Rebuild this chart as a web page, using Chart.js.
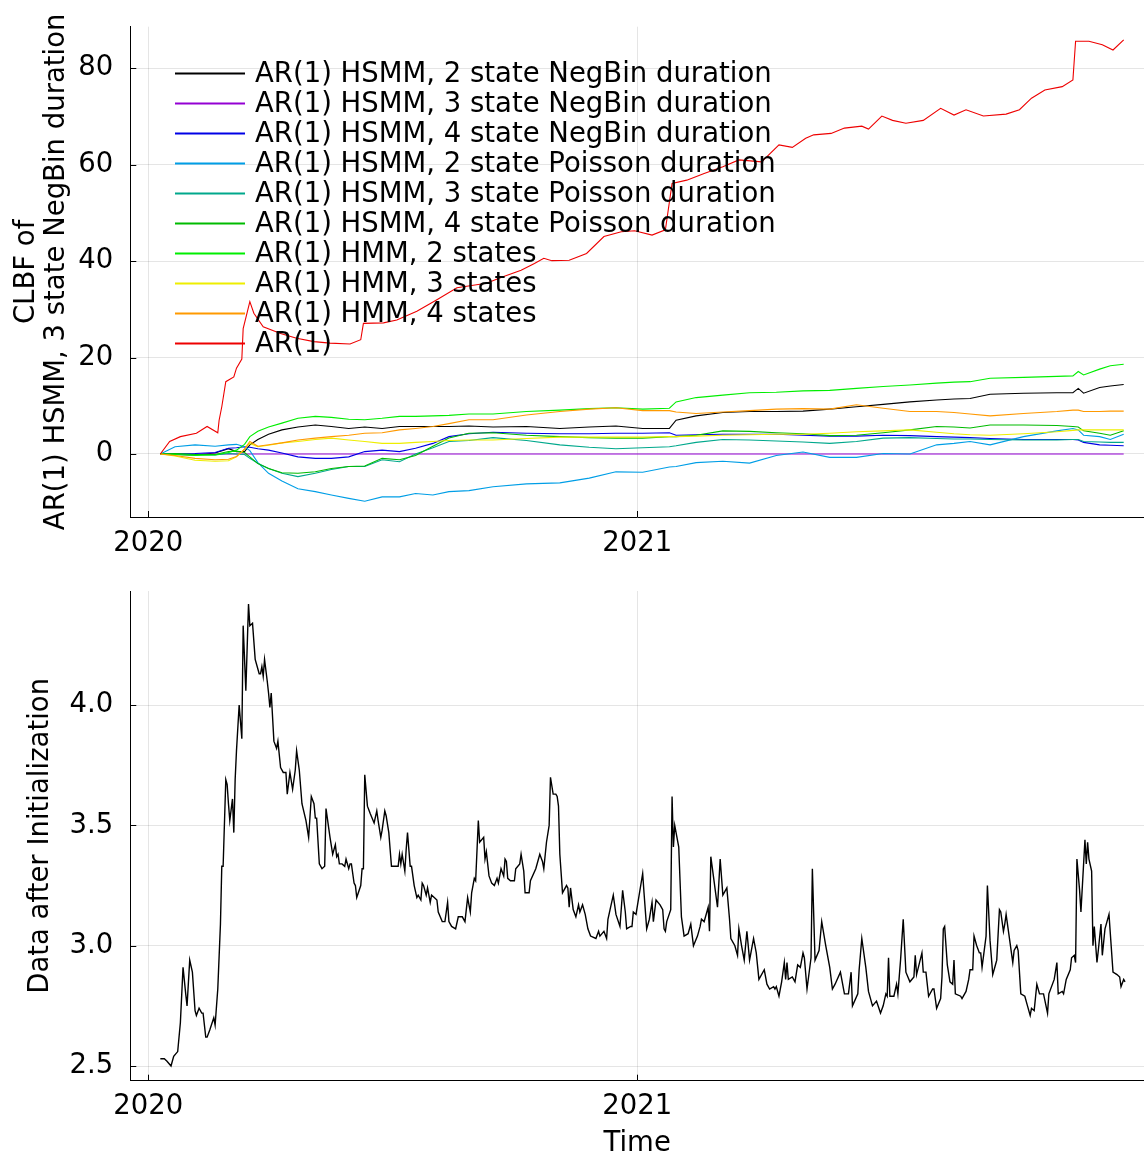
<!DOCTYPE html>
<html>
<head>
<meta charset="utf-8">
<title>CLBF comparison</title>
<script src="https://cdn.jsdelivr.net/npm/chart.js@4.4.1/dist/chart.umd.min.js"></script>
<style>
	html, body { margin: 0; padding: 0; background: #fff; }
	#wrap { position: relative; width: 1144px; height: 1156px; }
	canvas { position: absolute; left: 0; }
	#clbfChart { top: 0; }
	#dataChart { top: 578px; }
</style>
</head>
<body>
<div id="wrap">
	<canvas id="clbfChart" width="1144" height="578"></canvas>
	<canvas id="dataChart" width="1144" height="578"></canvas>
</div>
<script>
// x values are days since 2020-01-01
const yearTickDays = [0, 366];
const yearTickLabels = ['2020', '2021'];
const clbfTicks = [0, 20, 40, 60, 80];
const dataTicks = [2.5, 3.0, 3.5, 4.0];

const modelNames = [
	'AR(1) HSMM, 2 state NegBin duration',
	'AR(1) HSMM, 3 state NegBin duration',
	'AR(1) HSMM, 4 state NegBin duration',
	'AR(1) HSMM, 2 state Poisson duration',
	'AR(1) HSMM, 3 state Poisson duration',
	'AR(1) HSMM, 4 state Poisson duration',
	'AR(1) HMM, 2 states',
	'AR(1) HMM, 3 states',
	'AR(1) HMM, 4 states',
	'AR(1)',
];
const modelColors = [
	'#000000', '#9400d3', '#0000e6', '#009ee6', '#00a88c',
	'#00bb00', '#00ee00', '#eeee00', '#ff9900', '#ee0000',
];

// CLBF against the 3 state NegBin HSMM
const clbfDays = [
	9, 20, 35, 50, 60, 66, 72, 76, 82, 90,
	100, 112, 125, 137, 150, 162, 175, 188, 200, 213,
	225, 240, 258, 283, 308, 330, 350, 370, 390, 395,
	410, 430, 450, 470, 490, 510, 530, 550, 570, 590,
	603, 615, 630, 655, 680, 692, 696, 700, 712, 720,
	730,
];
const hsmm2NegBin = [
	0, -0.1, -0.2, 0.2, 1.1, 0.5, 0.5, 1.9, 3.0, 4.1,
	5.0, 5.6, 6.0, 5.7, 5.3, 5.6, 5.3, 5.7, 5.7, 5.7,
	5.7, 5.8, 5.6, 5.7, 5.3, 5.6, 5.8, 5.3, 5.3, 7.0,
	7.9, 8.6, 8.8, 8.8, 8.9, 9.3, 9.8, 10.3, 10.8, 11.2,
	11.4, 11.5, 12.4, 12.6, 12.7, 12.7, 13.6, 12.6, 13.8, 14.1,
	14.4,
];
const refDays = [9, 730];
const hsmm3NegBin = [0, 0];
const hsmm4NegBin = [
	0, 0, 0.1, 0.3, 1.2, 1.3, 1.5, 1.4, 1.1, 0.8,
	0.2, -0.6, -0.9, -0.9, -0.6, 0.5, 0.8, 0.5, 1.2, 2.2,
	3.6, 4.2, 4.5, 4.3, 4.2, 4.2, 4.3, 4.3, 4.4, 3.9,
	4.0, 4.1, 4.1, 4.1, 3.9, 3.7, 3.7, 3.9, 3.8, 3.6,
	3.5, 3.4, 3.2, 3.0, 3.0, 3.0, 2.9, 2.4, 1.9, 1.8,
	1.7,
];
const hsmm2Poisson = [
	0, 1.5, 1.9, 1.6, 1.9, 2.0, 1.5, 0.7, -1.8, -4.0,
	-5.6, -7.2, -7.8, -8.5, -9.2, -9.8, -8.9, -8.9, -8.2, -8.5,
	-7.8, -7.6, -6.8, -6.2, -6.0, -5.0, -3.7, -3.8, -2.7, -2.6,
	-1.8, -1.5, -1.9, -0.3, 0.4, -0.7, -0.7, 0.1, 0.0, 1.9,
	2.2, 2.6, 1.9, 3.6, 4.8, 5.3, 5.0, 3.9, 3.6, 3.0,
	4.1,
];
const hsmm3Poisson = [
	0, 0, -0.1, -0.2, 0.1, 0, -0.1, -0.9, -1.9, -3.0,
	-4.0, -4.7, -4.0, -3.2, -2.6, -2.6, -1.2, -1.6, 0, 1.3,
	2.6, 2.8, 3.4, 2.8, 1.9, 1.4, 1.1, 1.3, 1.5, 1.7,
	2.4, 3.0, 2.9, 2.7, 2.5, 2.2, 2.6, 3.3, 3.4, 3.2,
	3.1, 3.1, 3.0, 2.9, 2.9, 3.0, 3.0, 2.6, 2.5, 2.4,
	2.4,
];
const hsmm4Poisson = [
	0, 0.1, -0.1, -0.1, 0.5, 0.6, 0.3, -0.6, -2.0, -3.0,
	-3.9, -4.0, -3.7, -3.0, -2.6, -2.5, -0.9, -1.2, -0.3, 1.6,
	3.3, 4.3, 4.4, 3.9, 3.6, 3.4, 3.3, 3.3, 3.6, 3.6,
	3.9, 4.8, 4.7, 4.4, 4.2, 3.8, 3.9, 4.4, 5.0, 5.7,
	5.6, 5.4, 6.0, 6.0, 5.9, 5.7, 5.6, 4.8, 4.3, 3.9,
	4.8,
];
const hmm2 = [
	0, -0.1, -0.3, -0.2, 0.3, 0.8, 2.0, 3.6, 4.7, 5.6,
	6.4, 7.4, 7.8, 7.6, 7.2, 7.1, 7.4, 7.8, 7.8, 7.9,
	8.0, 8.3, 8.3, 8.8, 9.1, 9.4, 9.6, 9.3, 9.5, 10.8,
	11.7, 12.2, 12.7, 12.8, 13.1, 13.2, 13.6, 14.0, 14.3, 14.7,
	14.9, 15.0, 15.7, 15.9, 16.1, 16.2, 17.1, 16.4, 17.6, 18.3,
	18.6,
];
const hmm3 = [
	0, -0.4, -1.3, -1.5, -1.4, -0.6, 1.0, 2.2, 1.5, 1.8,
	2.3, 2.6, 3.0, 3.3, 2.9, 2.6, 2.2, 2.2, 2.4, 2.6,
	2.8, 2.9, 2.9, 3.2, 3.5, 3.5, 3.5, 3.5, 3.6, 3.6,
	3.7, 3.9, 4.0, 4.1, 4.1, 4.3, 4.6, 4.8, 5.0, 4.5,
	4.2, 4.0, 3.9, 4.2, 4.6, 4.9, 5.0, 5.0, 5.0, 5.0,
	5.0,
];
const hmm4 = [
	0, -0.3, -0.9, -1.2, -1.1, -0.5, 1.0, 2.6, 1.6, 1.9,
	2.3, 2.9, 3.3, 3.6, 3.9, 4.3, 4.4, 5.0, 5.3, 5.7,
	6.3, 7.1, 7.1, 8.1, 8.8, 9.3, 9.6, 9.0, 9.0, 8.7,
	8.4, 8.7, 9.0, 9.3, 9.4, 9.3, 10.2, 9.5, 8.8, 8.8,
	8.6, 8.3, 7.9, 8.4, 8.8, 9.1, 9.1, 8.8, 8.8, 8.9,
	8.9,
];
const arDays = [
	9, 16, 24, 36, 44, 52, 53, 55, 58, 64,
	66, 70, 71, 76, 79, 86, 99, 111, 124, 136,
	151, 159, 161, 176, 186, 201, 216, 231, 253, 266,
	279, 289, 296, 302, 315, 328, 341, 354, 364, 377,
	387, 392, 403, 416, 430, 442, 459, 472, 482, 492,
	498, 511, 521, 534, 539, 549, 557, 567, 580, 593,
	603, 612, 625, 642, 652, 661, 671, 684, 692, 694,
	704, 714, 722, 730,
];
const arClbf = [
	0, 2.6, 3.6, 4.3, 5.7, 4.4, 7.0, 9.8, 15.0, 16.0,
	17.8, 19.7, 26.0, 31.6, 29.2, 26.4, 25.0, 24.0, 23.3, 23.0,
	22.8, 23.7, 27.1, 27.2, 27.8, 29.6, 32.0, 34.5, 35.4, 36.8,
	38.1, 39.5, 40.6, 40.1, 40.2, 41.6, 45.1, 46.1, 46.3, 45.4,
	46.5, 56.1, 56.8, 58.2, 59.6, 61.0, 60.6, 64.1, 63.6, 65.5,
	66.2, 66.5, 67.6, 68.0, 67.4, 70.1, 69.2, 68.6, 69.2, 71.7,
	70.3, 71.4, 70.1, 70.5, 71.4, 73.8, 75.5, 76.2, 77.6, 85.6,
	85.6, 84.9, 83.8, 85.9,
];

// observed series after initialization
const dataDays = [
	9, 12, 14, 17, 19, 22, 24, 26, 28, 29,
	31, 33, 35, 36, 38, 40, 41, 43, 44, 46,
	49, 50, 52, 54, 55, 56, 58, 59, 60, 61,
	63, 64, 65, 66, 68, 70, 71, 73, 75, 76,
	78, 80, 83, 84, 85, 86, 87, 89, 90, 91,
	92, 94, 96, 97, 99, 101, 103, 104, 106, 108,
	110, 111, 113, 115, 118, 120, 122, 124, 125, 126,
	128, 130, 132, 133, 135, 136, 138, 140, 141, 142,
	143, 145, 147, 148, 150, 151, 152, 154, 155, 156,
	159, 160, 161, 162, 164, 166, 169, 171, 172, 174,
	175, 177, 178, 180, 181, 182, 187, 188, 189, 190,
	192, 193, 194, 196, 197, 199, 201, 202, 204, 205,
	206, 208, 209, 211, 212, 214, 216, 217, 220, 222,
	224, 225, 227, 230, 232, 235, 237, 239, 241, 242,
	244, 245, 247, 248, 251, 252, 253, 255, 257, 259,
	261, 262, 264, 266, 267, 268, 269, 271, 274, 275,
	278, 279, 281, 282, 285, 286, 290, 293, 295, 296,
	298, 300, 301, 303, 305, 306, 307, 308, 310, 313,
	314, 315, 316, 318, 320, 322, 323, 325, 327, 329,
	331, 335, 337, 338, 341, 343, 344, 346, 348, 350,
	353, 355, 357, 358, 361, 362, 363, 365, 370, 371,
	373, 375, 377, 378, 380, 383, 385, 386, 387, 388,
	391, 392, 393, 394, 397, 399, 401, 404, 406, 408,
	411, 413, 414, 416, 419, 420, 421, 426, 428, 430,
	433, 435, 436, 439, 441, 442, 444, 446, 448, 450,
	452, 453, 455, 457, 461, 463, 465, 468, 469, 470,
	472, 474, 476, 477, 478, 479, 482, 484, 486, 488,
	490, 491, 493, 496, 497, 499, 502, 504, 507, 510,
	512, 514, 518, 519, 521, 524, 526, 527, 531, 532,
	534, 537, 539, 542, 545, 548, 550, 552, 553, 554,
	555, 558, 560, 561, 563, 565, 567, 570, 573, 574,
	575, 579, 580, 582, 584, 587, 588, 590, 593, 594,
	595, 596, 598, 600, 602, 603, 604, 608, 609, 612,
	614, 615, 617, 618, 620, 622, 623, 624, 627, 628,
	630, 632, 634, 635, 637, 638, 640, 641, 642, 644,
	647, 648, 650, 651, 653, 656, 658, 660, 661, 663,
	665, 667, 670, 673, 674, 678, 680, 681, 684, 685,
	687, 690, 691, 693, 694, 695, 697, 698, 701, 702,
	703, 704, 706, 707, 708, 710, 711, 713, 714, 716,
	719, 722, 725, 727, 728, 730, 731,
];
const dataValues = [
	2.53, 2.53, 2.52, 2.50, 2.54, 2.56, 2.68, 2.91, 2.80, 2.75,
	2.94, 2.89, 2.73, 2.71, 2.74, 2.72, 2.72, 2.62, 2.62, 2.65,
	2.70, 2.67, 2.82, 3.09, 3.33, 3.33, 3.69, 3.67, 3.59, 3.52,
	3.61, 3.47, 3.69, 3.81, 4.00, 3.86, 4.33, 4.06, 4.42, 4.33,
	4.34, 4.19, 4.13, 4.13, 4.16, 4.12, 4.19, 4.10, 4.05, 3.99,
	4.05, 3.85, 3.82, 3.85, 3.74, 3.72, 3.72, 3.63, 3.72, 3.65,
	3.73, 3.81, 3.73, 3.59, 3.52, 3.45, 3.62, 3.59, 3.53, 3.53,
	3.34, 3.32, 3.33, 3.57, 3.49, 3.45, 3.38, 3.42, 3.37, 3.38,
	3.34, 3.34, 3.33, 3.36, 3.32, 3.34, 3.34, 3.26, 3.25, 3.20,
	3.25, 3.32, 3.32, 3.71, 3.58, 3.55, 3.51, 3.56, 3.52, 3.45,
	3.48, 3.56, 3.54, 3.47, 3.40, 3.33, 3.33, 3.38, 3.34, 3.38,
	3.31, 3.40, 3.47, 3.33, 3.33, 3.25, 3.20, 3.21, 3.19, 3.26,
	3.25, 3.21, 3.24, 3.18, 3.21, 3.20, 3.19, 3.14, 3.10, 3.10,
	3.18, 3.10, 3.08, 3.07, 3.12, 3.12, 3.10, 3.20, 3.14, 3.22,
	3.28, 3.27, 3.52, 3.43, 3.45, 3.36, 3.39, 3.29, 3.26, 3.25,
	3.28, 3.26, 3.32, 3.29, 3.36, 3.35, 3.28, 3.27, 3.27, 3.32,
	3.34, 3.38, 3.31, 3.22, 3.22, 3.27, 3.32, 3.38, 3.35, 3.32,
	3.43, 3.50, 3.70, 3.63, 3.63, 3.62, 3.58, 3.38, 3.22, 3.25,
	3.24, 3.16, 3.24, 3.15, 3.12, 3.17, 3.14, 3.17, 3.13, 3.07,
	3.04, 3.03, 3.06, 3.04, 3.06, 3.03, 3.11, 3.16, 3.21, 3.13,
	3.08, 3.23, 3.14, 3.07, 3.08, 3.08, 3.14, 3.13, 3.30, 3.22,
	3.07, 3.11, 3.18, 3.10, 3.19, 3.17, 3.15, 3.07, 3.06, 3.10,
	3.15, 3.62, 3.41, 3.50, 3.41, 3.12, 3.04, 3.05, 3.09, 3.00,
	3.04, 3.08, 3.11, 3.10, 3.16, 3.06, 3.37, 3.16, 3.36, 3.21,
	3.24, 3.11, 3.03, 3.00, 2.96, 3.07, 3.00, 2.94, 3.06, 2.94,
	3.00, 3.03, 2.97, 2.86, 2.90, 2.84, 2.82, 2.83, 2.82, 2.83,
	2.79, 2.85, 2.93, 2.86, 2.93, 2.86, 2.87, 2.85, 2.92, 2.91,
	2.97, 2.95, 2.82, 2.95, 3.32, 2.94, 2.98, 3.10, 3.00, 2.91,
	2.82, 2.84, 2.89, 2.86, 2.80, 2.80, 2.89, 2.75, 2.80, 2.90,
	3.03, 2.91, 2.81, 2.75, 2.77, 2.72, 2.75, 2.80, 2.79, 2.95,
	2.79, 2.79, 2.84, 2.80, 2.94, 3.11, 2.89, 2.85, 2.87, 2.96,
	2.88, 2.97, 2.89, 2.89, 2.79, 2.82, 2.82, 2.74, 2.78, 2.87,
	3.07, 3.08, 2.92, 2.85, 2.84, 2.94, 2.80, 2.79, 2.78, 2.81,
	2.86, 2.90, 2.90, 3.04, 3.00, 2.97, 2.97, 2.91, 3.04, 3.25,
	3.02, 2.88, 2.92, 2.94, 3.15, 3.14, 3.06, 3.09, 3.13, 3.05,
	2.93, 2.98, 3.00, 2.98, 2.80, 2.79, 2.75, 2.71, 2.74, 2.73,
	2.84, 2.80, 2.80, 2.72, 2.80, 2.86, 2.93, 2.80, 2.81, 2.80,
	2.86, 2.90, 2.95, 2.96, 2.93, 3.36, 3.23, 3.14, 3.44, 3.34,
	3.43, 3.36, 3.31, 3.00, 3.08, 2.93, 2.98, 3.09, 2.96, 3.07,
	3.13, 2.89, 2.88, 2.87, 2.83, 2.86, 2.85,
];

const FONT = 'DejaVu Sans';
const FONT_SIZE = 27.5;
const GRID_COLOR = 'rgba(0, 0, 0, 0.1)';

const pts = (xs, ys) => xs.map((x, i) => ({ x: x, y: ys[i] }));

// short inward tick marks on both axes
const innerTicks = {
	id: 'innerTicks',
	afterDraw(chart) {
		const { ctx, chartArea, scales } = chart;
		ctx.save();
		ctx.strokeStyle = '#000';
		ctx.lineWidth = 1;
		ctx.beginPath();
		scales.y.ticks.forEach((t) => {
			const y = Math.round(scales.y.getPixelForValue(t.value)) + 0.5;
			ctx.moveTo(chartArea.left, y);
			ctx.lineTo(chartArea.left + 6, y);
		});
		scales.x.ticks.forEach((t) => {
			const x = Math.round(scales.x.getPixelForValue(t.value)) + 0.5;
			ctx.moveTo(x, chartArea.bottom);
			ctx.lineTo(x, chartArea.bottom - 6);
		});
		ctx.stroke();
		ctx.restore();
	},
};

// legend drawn inside the plot, no frame
const insideLegend = {
	id: 'insideLegend',
	afterDatasetsDraw(chart) {
		const ctx = chart.ctx;
		ctx.save();
		ctx.font = `${FONT_SIZE}px "${FONT}"`;
		ctx.textBaseline = 'middle';
		ctx.textAlign = 'left';
		modelNames.forEach((name, i) => {
			const y = 73.5 + i * 30;
			ctx.strokeStyle = modelColors[i];
			ctx.lineWidth = 2;
			ctx.beginPath();
			ctx.moveTo(175, y);
			ctx.lineTo(245, y);
			ctx.stroke();
			ctx.fillStyle = '#000';
			ctx.fillText(name, 255, y + 1.5);
		});
		ctx.restore();
	},
};

function yearAxis(height, title) {
	return {
		type: 'linear',
		min: -13.47,
		max: 745.2,
		afterBuildTicks: (scale) => {
			scale.ticks = yearTickDays.map((v) => ({ value: v }));
		},
		afterFit: (scale) => {
			scale.height = height;
			scale.paddingLeft = 0;
			scale.paddingRight = 0;
		},
		grid: { color: GRID_COLOR, drawTicks: false },
		border: { color: '#000', width: 1 },
		ticks: {
			color: '#000',
			font: { family: FONT, size: FONT_SIZE, lineHeight: 1.2 },
			padding: 10,
			maxRotation: 0,
			autoSkip: false,
			callback: (value) => yearTickLabels[yearTickDays.indexOf(value)],
		},
		title: title ? {
			display: true,
			text: title,
			color: '#000',
			font: { family: FONT, size: FONT_SIZE, lineHeight: 0.9 },
			padding: { top: 0, bottom: 0 },
		} : { display: false },
	};
}

function valueAxis(min, max, tickValues, title, titlePad, fmt) {
	return {
		type: 'linear',
		min: min,
		max: max,
		afterBuildTicks: (scale) => {
			scale.ticks = tickValues.map((v) => ({ value: v }));
		},
		afterFit: (scale) => {
			scale.width = 130.3;
			// keep the plot edges where the layout padding puts them
			scale.paddingTop = 0;
			scale.paddingBottom = 0;
		},
		grid: { color: GRID_COLOR, drawTicks: false },
		border: { color: '#000', width: 1 },
		ticks: {
			color: '#000',
			font: { family: FONT, size: FONT_SIZE },
			padding: 17,
			callback: fmt,
		},
		title: {
			display: true,
			text: title,
			color: '#000',
			font: { family: FONT, size: FONT_SIZE, lineHeight: 1.1 },
			padding: { top: titlePad, bottom: 0 },
		},
	};
}

window.addEventListener('DOMContentLoaded', () => {
	Chart.defaults.font.family = FONT;

	const clbfSeries = [
		pts(clbfDays, hsmm2NegBin),
		pts(refDays, hsmm3NegBin),
		pts(clbfDays, hsmm4NegBin),
		pts(clbfDays, hsmm2Poisson),
		pts(clbfDays, hsmm3Poisson),
		pts(clbfDays, hsmm4Poisson),
		pts(clbfDays, hmm2),
		pts(clbfDays, hmm3),
		pts(clbfDays, hmm4),
		pts(arDays, arClbf),
	];

	new Chart(document.getElementById('clbfChart').getContext('2d'), {
		type: 'line',
		data: {
			datasets: clbfSeries.map((points, i) => ({
				label: modelNames[i],
				data: points,
				borderColor: modelColors[i],
				borderWidth: 1.1,
				pointRadius: 0,
				tension: 0,
				fill: false,
				// later models are painted on top
				order: modelNames.length - i,
			})),
		},
		options: {
			responsive: false,
			animation: false,
			layout: { padding: { top: 26.7, left: 0, right: 0, bottom: 0 } },
			plugins: { legend: { display: false }, tooltip: { enabled: false } },
			scales: {
				x: yearAxis(61, null),
				y: valueAxis(-13.07, 88.63, clbfTicks,
					['CLBF of', 'AR(1) HSMM, 3 state NegBin duration'], 11.5,
					(v) => String(v)),
			},
		},
		plugins: [innerTicks, insideLegend],
	});

	new Chart(document.getElementById('dataChart').getContext('2d'), {
		type: 'line',
		data: {
			datasets: [{
				label: 'Data after Initialization',
				data: pts(dataDays, dataValues),
				borderColor: '#000000',
				borderWidth: 1.4,
				pointRadius: 0,
				tension: 0,
				fill: false,
			}],
		},
		options: {
			responsive: false,
			animation: false,
			layout: { padding: { top: 13, left: 0, right: 0, bottom: 0 } },
			plugins: { legend: { display: false }, tooltip: { enabled: false } },
			scales: {
				x: yearAxis(75.3, 'Time'),
				y: valueAxis(2.439, 4.474, dataTicks, 'Data after Initialization', 26,
					(v) => v.toFixed(1)),
			},
		},
		plugins: [innerTicks],
	});
});
</script>
</body>
</html>
